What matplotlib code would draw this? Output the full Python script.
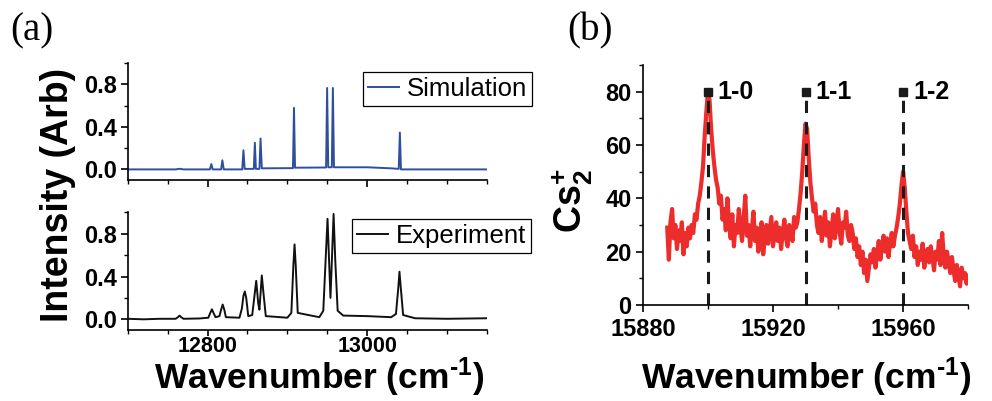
import numpy as np
import matplotlib
matplotlib.use("Agg")
import matplotlib.pyplot as plt
from matplotlib.ticker import MultipleLocator, FixedLocator

# -----------------------------
# Data
# -----------------------------
# (a) simulation: sparse points joined by straight lines
sim_x = [12700, 12760, 12765, 12770, 12803, 12804.8, 12806.5, 12817, 12818.6, 12820.3,
         12843.5, 12845, 12846.5, 12858, 12859.3, 12860.6, 12865, 12866.4, 12868,
         12907, 12908.3, 12909.6, 12948.5, 12949.8, 12951.2, 12955.7, 12957, 12958.4,
         13000, 13030, 13039.5, 13040.9, 13042.3, 13060, 13150]
sim_y = [0.0, 0.0, 0.006, 0.0, 0.0, 0.05, 0.0, 0.0, 0.086, 0.0,
         0.0, 0.18, 0.005, 0.005, 0.25, 0.005, 0.005, 0.29, 0.01,
         0.012, 0.578, 0.016, 0.018, 0.765, 0.02, 0.02, 0.765, 0.02,
         0.02, 0.01, 0.005, 0.346, 0.0, 0.0, 0.0]

# (a) experiment
exp_x = [12700, 12720, 12740, 12760, 12763, 12765, 12767, 12770, 12790,
         12801, 12803.5, 12805.5, 12807.5, 12810, 12815, 12817, 12819, 12821, 12823,
         12840, 12843, 12845, 12846.7, 12848.5, 12851, 12856, 12858.5, 12861,
         12863.5, 12865, 12866.5, 12868, 12870, 12873, 12900, 12905, 12907.5,
         12909, 12910.5, 12913, 12940, 12945, 12948.5, 12950.3, 12952.5, 12954,
         12956, 12957.9, 12960, 12963, 12970, 13000, 13030, 13036, 13039,
         13040.4, 13042, 13045, 13060, 13100, 13150]
exp_y = [0.005, 0.0, 0.005, 0.005, 0.02, 0.035, 0.02, 0.005, 0.008,
         0.015, 0.06, 0.094, 0.06, 0.02, 0.03, 0.09, 0.138, 0.09, 0.02,
         0.015, 0.1, 0.22, 0.26, 0.2, 0.03, 0.04, 0.2, 0.36,
         0.15, 0.09, 0.25, 0.41, 0.25, 0.03, 0.015, 0.06, 0.5,
         0.70, 0.5, 0.06, 0.02, 0.08, 0.65, 0.94, 0.5, 0.2,
         0.6, 0.985, 0.55, 0.08, 0.035, 0.03, 0.02, 0.05, 0.3,
         0.445, 0.3, 0.04, 0.01, 0.005, 0.01]

# (b) Cs2+ signal, 0.5 cm-1 steps from 15887.5 to 15980
cs_start, cs_step = 15887.5, 0.5
cs_y = [29, 17, 31, 36, 25, 30, 21, 28, 24, 31, 19, 27, 22, 29, 25,
        30, 27, 34, 32, 38, 41, 46, 52, 63,
        72, 80, 77, 66,
        58, 52, 47, 44, 38, 41,
        32, 36, 28, 40, 31, 25, 34, 22, 30, 27, 36, 29, 24, 33, 41, 26, 30, 22, 28, 35, 24, 29,
        20, 27, 31, 19, 25, 30, 23, 28, 33, 22, 26, 31, 24, 29, 21, 27, 32, 25, 22, 30, 28, 24, 33, 29,
        31, 36, 42, 50, 60,
        68, 66, 55,
        46, 40, 35, 38,
        30, 27, 33, 24, 29, 35, 26, 31, 22, 28, 34, 25, 30, 36, 27, 23, 31, 29, 35, 26, 24, 30, 27, 21,
        25, 18, 22, 15, 20, 12, 17, 9, 14, 19,
        16, 21, 14, 19, 24, 17, 22, 26, 20, 25, 18, 23, 27, 22, 26, 29,
        33, 38, 45,
        50, 44, 35,
        27, 24, 21, 26,
        18, 22, 15, 20, 17, 23, 14, 19, 21, 16, 22, 18, 13, 20, 17, 24, 15, 27, 18, 14, 20, 16, 12, 18,
        13, 9, 15, 11, 7, 14, 10, 12, 8, 11]

band_pos = [15900, 15930, 15960]
band_top = 80
band_labels = ["1-0", "1-1", "1-2"]

# -----------------------------
# Style
# -----------------------------
plt.rcParams["font.family"] = ["Liberation Sans", "DejaVu Sans"]
plt.rcParams["mathtext.fontset"] = "custom"
plt.rcParams["mathtext.rm"] = "Liberation Sans:bold"
plt.rcParams["mathtext.bf"] = "Liberation Sans:bold"
plt.rcParams["mathtext.it"] = "Liberation Sans:bold"

TICK_FS = 17
LABEL_FS = 25.5


def style_axes(ax):
    for s in ("top", "right"):
        ax.spines[s].set_visible(False)
    for s in ("left", "bottom"):
        ax.spines[s].set_linewidth(1.2)
    ax.tick_params(which="major", direction="out", length=5, width=1.2,
                   labelsize=TICK_FS, pad=3)
    ax.tick_params(which="minor", direction="out", length=3, width=1.0)
    for lab in ax.get_xticklabels() + ax.get_yticklabels():
        lab.set_fontweight("bold")


def main():
    fig = plt.figure(figsize=(9.92, 4.01), dpi=100)

    ax_sim = fig.add_axes([0.1287, 0.551, 0.3622, 0.292])
    ax_exp = fig.add_axes([0.1287, 0.177, 0.3622, 0.2935])
    ax_b = fig.add_axes([0.648, 0.2394, 0.328, 0.5985])

    # (a) simulation
    ax_sim.plot(sim_x, sim_y, color="#2f4f9e", lw=1.4, label="Simulation")
    # (a) experiment
    ax_exp.plot(exp_x, exp_y, color="#111111", lw=1.4, label="Experiment")

    for ax in (ax_sim, ax_exp):
        ax.set_xlim(12700, 13150)
        ax.set_ylim(-0.1, 1.0)
        ax.xaxis.set_major_locator(FixedLocator([12800, 13000]))
        ax.xaxis.set_minor_locator(MultipleLocator(50))
        ax.yaxis.set_major_locator(FixedLocator([0.0, 0.4, 0.8]))
        ax.yaxis.set_minor_locator(MultipleLocator(0.2))
        ax.yaxis.set_major_formatter(plt.FormatStrFormatter("%.1f"))
        style_axes(ax)
    ax_sim.tick_params(axis="x", labelbottom=False)
    ax_exp.tick_params(axis="x", which="major", length=4, pad=0.5, labelsize=15.5)

    leg_kw = dict(loc="upper left", borderaxespad=0, fancybox=False, framealpha=1,
                  edgecolor="black", handlelength=1.2, handletextpad=0.3,
                  borderpad=0.2, prop={"size": 18.5})
    l1 = ax_sim.legend(bbox_to_anchor=(0.655, 0.923), **leg_kw)
    l2 = ax_exp.legend(bbox_to_anchor=(0.624, 0.943), **leg_kw)
    for leg in (l1, l2):
        leg.get_frame().set_linewidth(0.9)

    # (b) Cs2+ signal
    cs_x = cs_start + cs_step * np.arange(len(cs_y))
    ax_b.plot(cs_x, cs_y, color="#ec2d2b", lw=3)
    for xp, lab in zip(band_pos, band_labels):
        ax_b.plot([xp, xp], [0, band_top], color="#1a1a1a", lw=2.2,
                  ls=(0, (4, 3)), marker="s", markevery=[1], ms=6)
        ax_b.text(xp + 3, band_top, lab, fontsize=18, fontweight="bold",
                  va="center", ha="left")
    ax_b.set_xlim(15880, 15980)
    ax_b.set_ylim(0, 90)
    ax_b.xaxis.set_major_locator(MultipleLocator(40))
    ax_b.xaxis.set_minor_locator(MultipleLocator(20))
    ax_b.yaxis.set_major_locator(MultipleLocator(20))
    ax_b.yaxis.set_minor_locator(MultipleLocator(10))
    style_axes(ax_b)
    ax_b.tick_params(axis="x", pad=4)

    # labels
    fig.text(0.058, 0.515, "Intensity (Arb)", rotation=90, fontsize=27,
             fontweight="bold", ha="center", va="center")
    xlab = r"Wavenumber (cm$^{\text{-1}}$)"
    fig.text(0.3216, 0.03, xlab, fontsize=LABEL_FS,
             fontweight="bold", ha="center", va="baseline")
    fig.text(0.8125, 0.03, xlab, fontsize=LABEL_FS,
             fontweight="bold", ha="center", va="baseline")
    fig.text(0.577, 0.50, r"Cs$_{\mathbf{2}}^{\mathbf{+}}$", rotation=90,
             fontsize=27, fontweight="bold", ha="center", va="center")

    fig.text(0.010, 0.90, "(a)", fontsize=28, family="Liberation Serif", va="baseline")
    fig.text(0.572, 0.90, "(b)", fontsize=28, family="Liberation Serif", va="baseline")

    fig.savefig("out.png", dpi=100)


if __name__ == "__main__":
    main()
